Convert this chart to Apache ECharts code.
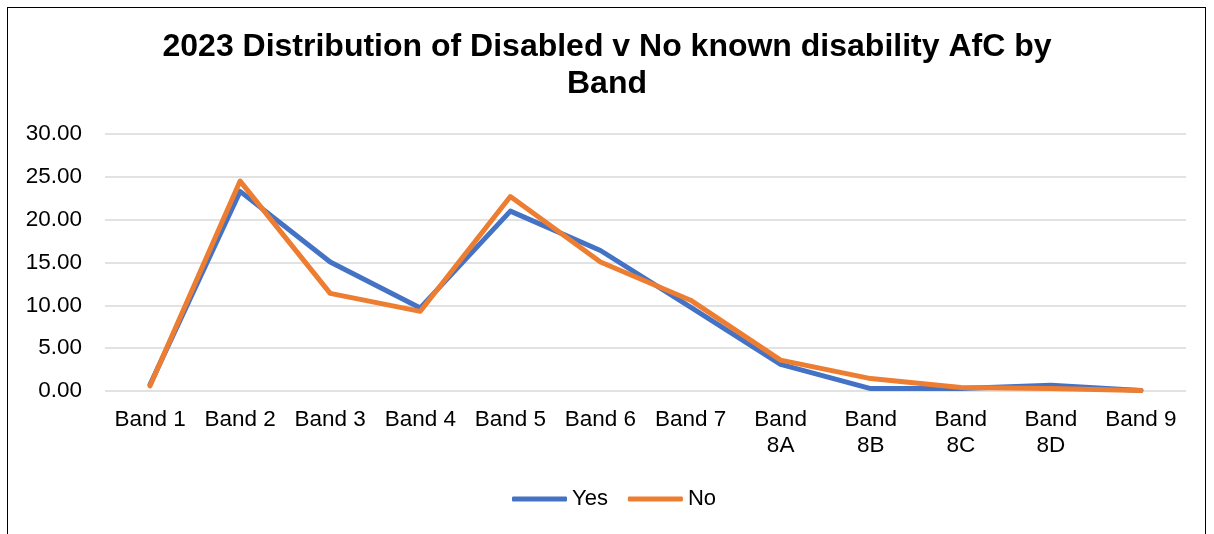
<!DOCTYPE html>
<html>
<head>
<meta charset="utf-8">
<script src="https://cdn.jsdelivr.net/npm/echarts@6/dist/echarts.min.js"></script>
<style>
  html, body { margin: 0; padding: 0; background: #fff; }
  #wrap { position: relative; width: 1214px; height: 534px; overflow: hidden; }
  #frame { position: absolute; left: 7px; top: 7px; width: 1199px; height: 600px; border: 1.5px solid #000; box-sizing: border-box; }
  #chart { position: absolute; left: 0; top: 0; width: 1214px; height: 534px; }
</style>
</head>
<body>
<div id="wrap">
  <div id="frame"></div>
  <div id="chart"></div>
</div>
<script>
// Share of staff (%) in each Agenda for Change band, 2023
const bands = ['Band 1', 'Band 2', 'Band 3', 'Band 4', 'Band 5', 'Band 6', 'Band 7', 'Band 8A', 'Band 8B', 'Band 8C', 'Band 8D', 'Band 9'];
const disabledYes = [0.75, 23.3, 15.05, 9.7, 21.0, 16.4, 9.8, 3.1, 0.28, 0.3, 0.67, 0.05];
const disabledNo = [0.6, 24.5, 11.4, 9.3, 22.7, 15.05, 10.6, 3.6, 1.45, 0.4, 0.3, 0.05];
const yTicks = { min: 0, max: 30, interval: 5 };

const chart = echarts.init(document.getElementById('chart'), null, { renderer: 'canvas' });
const font = 'Liberation Sans, Arial, sans-serif';

chart.setOption({
  animation: false,
  title: {
    text: '2023 Distribution of Disabled v No known disability AfC by\nBand',
    left: 'center',
    top: 29,
    padding: 0,
    textStyle: { fontFamily: font, fontSize: 32, fontWeight: 'bold', color: '#000', lineHeight: 37 }
  },
  legend: {
    data: ['Yes', 'No'],
    top: 487,
    left: 512,
    padding: 0,
    itemWidth: 55,
    itemHeight: 5,
    itemGap: 20,
    icon: 'roundRect',
    textStyle: { fontFamily: font, fontSize: 22, color: '#000', lineHeight: 24 }
  },
  grid: { left: 105, right: 28, top: 134, bottom: 143, containLabel: false },
  xAxis: {
    type: 'category',
    data: bands,
    boundaryGap: true,
    axisLine: { show: false },
    axisTick: { show: false },
    axisLabel: {
      interval: 0,
      margin: 16,
      fontFamily: font,
      fontSize: 22.5,
      color: '#000',
      lineHeight: 26,
      formatter: v => v.length > 6 ? v.replace(' ', '\n') : v
    }
  },
  yAxis: {
    type: 'value',
    min: yTicks.min,
    max: yTicks.max,
    interval: yTicks.interval,
    axisLine: { show: false },
    axisTick: { show: false },
    splitLine: { lineStyle: { color: '#d9d9d9', width: 1.5 } },
    axisLabel: {
      margin: 23,
      fontFamily: font,
      fontSize: 22.5,
      color: '#000',
      formatter: v => v.toFixed(2)
    }
  },
  series: [
    {
      name: 'Yes', type: 'line', data: disabledYes,
      symbol: 'none',
      lineStyle: { color: '#4472C4', width: 5, cap: 'round', join: 'round' },
      itemStyle: { color: '#4472C4' }
    },
    {
      name: 'No', type: 'line', data: disabledNo,
      symbol: 'none',
      lineStyle: { color: '#ED7D31', width: 5, cap: 'round', join: 'round' },
      itemStyle: { color: '#ED7D31' }
    }
  ]
});
</script>
</body>
</html>
